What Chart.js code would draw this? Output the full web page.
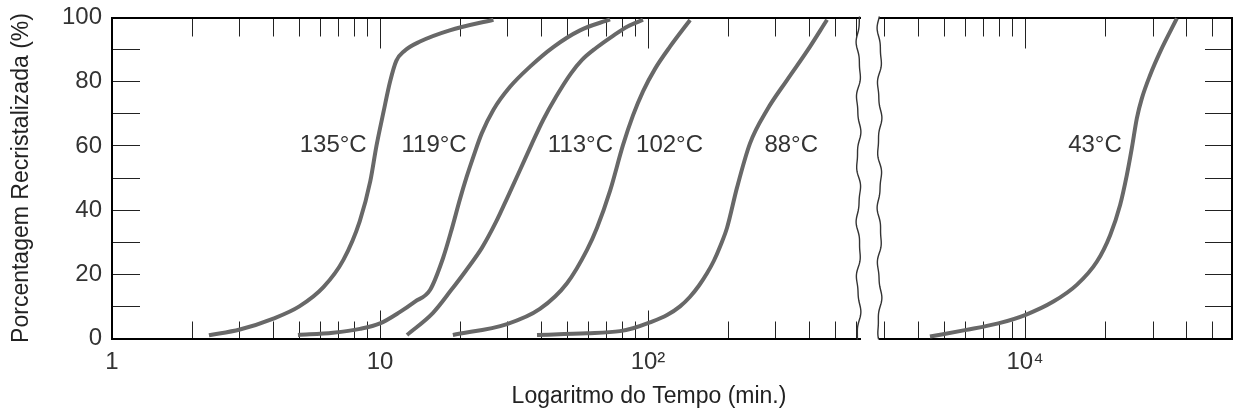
<!DOCTYPE html>
<html>
<head>
<meta charset="utf-8">
<script src="https://cdn.jsdelivr.net/npm/chart.js@4.4.1/dist/chart.umd.min.js"></script>
<style>
html, body { margin: 0; padding: 0; background: #fff; overflow: hidden; }
#wrap { position: relative; width: 1233px; height: 412px; background: #fff; }
canvas { position: absolute; top: 0; }
#c1 { left: 0; }
#c2 { left: 65px; }
</style>
</head>
<body>
<div id="wrap">
  <canvas id="c1" width="870" height="412"></canvas>
  <canvas id="c2" width="1168" height="412"></canvas>
</div>
<script>
// ---------- data (time in minutes, percent recrystallized) ----------
const t135 = [2.3, 3.0, 4.0, 5.0, 6.15, 7.3, 8.4, 9.2, 9.7, 10.3, 10.9, 11.5, 12.3, 14.1, 18.2, 26.5];
const p135 = [1.0, 2.8, 6.2, 10.0, 16.0, 24.5, 36.5, 49.0, 60.0, 70.5, 80.0, 86.5, 89.5, 92.5, 96.0, 99.3];

const t119 = [4.94, 6.68, 8.42, 10.0, 11.88, 13.51, 15.37, 17.18, 18.51, 19.89, 21.06, 22.29, 23.96, 26.47, 30.56, 36.29, 44.32, 55.76, 72.16];
const p119 = [1.1, 1.8, 3.0, 4.7, 8.3, 11.5, 15.1, 25.0, 34.0, 43.5, 50.4, 56.6, 63.9, 71.2, 78.4, 84.7, 90.8, 96.0, 99.4];

const t113 = [12.61, 15.77, 18.40, 20.94, 24.03, 27.09, 30.03, 33.30, 36.93, 40.57, 45.37, 51.61, 56.72, 63.97, 74.05, 84.22, 95.79];
const p113 = [1.1, 8.0, 15.0, 21.2, 28.3, 36.3, 44.3, 52.5, 60.8, 68.0, 75.3, 82.6, 86.8, 90.5, 94.3, 97.3, 99.3];

const t102 = [18.7, 29.78, 39.5, 49.86, 59.22, 64.53, 72.16, 80.7, 87.9, 95.8, 106.2, 120.8, 143.5];
const p102 = [1.1, 4.5, 9.2, 17.2, 27.6, 34.5, 46.0, 60.3, 69.5, 77.0, 84.0, 90.9, 99.2];

const t88 = [38.53, 59.22, 78.63, 87.9, 101.7, 117.8, 131.7, 143.5, 155.0, 166.0, 176.3, 185.6, 197.2, 214.8, 240.2, 278.0, 330.1, 392.0, 465.5];
const p88 = [1.1, 1.6, 2.3, 3.2, 5.0, 7.3, 10.0, 13.0, 16.5, 20.3, 24.3, 28.6, 34.5, 47.0, 60.8, 71.2, 80.5, 89.5, 99.3];

const t43 = [4422, 5973, 7950, 10000, 12755, 15590, 18515, 20765, 22620, 23962, 25012, 26112, 27259, 29275, 31891, 36813];
const p43 = [0.6, 2.6, 4.7, 7.3, 11.5, 16.7, 23.9, 32.2, 41.6, 50.9, 59.3, 68.6, 74.8, 82.1, 89.3, 99.7];

// curve names and where each name sits (time, percent) - text right edge
const curveNames = ['135°C', '119°C', '113°C', '102°C', '88°C', '43°C'];
const nameTime = [8.92, 21.06, 74.05, 160.4, 430.8, 22950];
const namePct = [60.2, 60.2, 60.2, 60.2, 60.2, 60.2];

// axis ranges and ticks
const LEFT_MIN = 1, LEFT_MAX = 618;
const RIGHT_MIN = 2880, RIGHT_MAX = 59100;
const leftMajorTicks = [1, 10, 100];
const leftMajorLabels = ['1', '10', '10²'];
const leftMinorTicks = [2, 3, 4, 5, 6, 7, 8, 9, 20, 30, 40, 50, 60, 70, 80, 90, 200, 300, 400, 500, 600];
const rightMajorTicks = [10000];
const rightMajorLabels = ['10⁴'];
const rightMinorTicks = [3000, 4000, 5000, 6000, 7000, 8000, 9000, 20000, 30000, 40000, 50000];
const yTicks = [0, 10, 20, 30, 40, 50, 60, 70, 80, 90, 100];
const yLabels = ['0', '', '20', '', '40', '', '60', '', '80', '', '100'];

// ---------- styling ----------
const FONT = "'Liberation Sans', Arial, Helvetica, sans-serif";
const TXT = '#333';
const TICK = '#222';
const CURVE = '#686868';

function pts(t, p) { return t.map((v, i) => ({ x: v, y: p[i] })); }
function fixedTicks(values) { return s => { s.ticks = values.map(v => ({ value: v })); }; }
function fixH(h) { return s => { s.height = h; s.paddingLeft = 0; s.paddingRight = 0; }; }

function xAxis(pos, min, max, values, len, extra) {
  return Object.assign({
    type: 'logarithmic', position: pos, min: min, max: max,
    afterBuildTicks: fixedTicks(values), afterFit: fixH(0),
    grid: { drawOnChartArea: false, drawTicks: true, tickLength: -len, tickColor: TICK, tickWidth: 1 },
    border: { display: false },
    ticks: { display: false, autoSkip: false, maxRotation: 0, minRotation: 0 }
  }, extra || {});
}
function labelTicks(labels) {
  return { display: true, autoSkip: false, maxRotation: 0, minRotation: 0, padding: 37,
           font: { family: FONT, size: 24 }, color: TXT,
           callback: (v, i) => labels[i] };
}
const frame = { display: true, color: '#000', width: 2 };

function ds(name, t, p, idx) {
  return { label: name, data: pts(t, p), labelAt: [nameTime[idx], namePct[idx]],
           borderColor: CURVE, borderWidth: 4, pointRadius: 0, fill: false,
           cubicInterpolationMode: 'monotone' };
}

const curveLabels = {
  id: 'curveLabels',
  afterDatasetsDraw(chart) {
    const { ctx } = chart; const xs = chart.scales.x, ys = chart.scales.y;
    ctx.save();
    ctx.font = '24px ' + FONT; ctx.fillStyle = TXT;
    ctx.textAlign = 'right'; ctx.textBaseline = 'middle';
    chart.data.datasets.forEach(d => {
      ctx.fillText(d.label, xs.getPixelForValue(d.labelAt[0]), ys.getPixelForValue(d.labelAt[1]));
    });
    ctx.restore();
  }
};

const breakLine = {
  id: 'breakLine',
  afterDraw(chart, args, opts) {
    const { ctx, chartArea } = chart;
    const x0 = opts.side === 'right' ? chartArea.right - 1.5 : chartArea.left - 0.5;
    ctx.save();
    ctx.strokeStyle = '#333'; ctx.lineWidth = 1.4;
    ctx.beginPath();
    for (let y = chartArea.top - 1; y <= chartArea.bottom + 1; y += 1) {
      const x = x0 + 1.8 * Math.sin((y + opts.phase) / 9.5) + 0.6 * Math.sin((y + opts.phase) / 4.1);
      if (y === chartArea.top - 1) ctx.moveTo(x, y); else ctx.lineTo(x, y);
    }
    ctx.stroke();
    ctx.restore();
  }
};

// ---------- left panel ----------
new Chart(document.getElementById('c1'), {
  type: 'line',
  data: { datasets: [
    ds(curveNames[0], t135, p135, 0),
    ds(curveNames[1], t119, p119, 1),
    ds(curveNames[2], t113, p113, 2),
    ds(curveNames[3], t102, p102, 3),
    ds(curveNames[4], t88, p88, 4)
  ] },
  options: {
    responsive: false, animation: false, devicePixelRatio: 1,
    layout: { padding: { left: 0, right: 10, top: 17.5, bottom: 33.5 } },
    plugins: { legend: { display: false }, tooltip: { enabled: false }, breakLine: { side: 'right', phase: 3 } },
    scales: {
      xMinB: xAxis('bottom', LEFT_MIN, LEFT_MAX, leftMinorTicks, 17, { border: frame, weight: -1 }),
      x: xAxis('bottom', LEFT_MIN, LEFT_MAX, leftMajorTicks, 28, { ticks: labelTicks(leftMajorLabels), afterFit: fixH(40) }),
      xMinT: xAxis('top', LEFT_MIN, LEFT_MAX, leftMinorTicks, 19, { border: frame }),
      xMajT: xAxis('top', LEFT_MIN, LEFT_MAX, leftMajorTicks, 31),
      y: {
        type: 'linear', position: 'left', min: 0, max: 100,
        afterBuildTicks: fixedTicks(yTicks),
        afterFit: s => { s.width = 112; s.paddingTop = 0; s.paddingBottom = 0; },
        grid: { drawOnChartArea: false, tickLength: -28, tickColor: TICK, tickWidth: 1 },
        border: frame,
        ticks: { autoSkip: false, padding: 38, font: { family: FONT, size: 24 }, color: TXT,
                 callback: (v, i) => yLabels[i] },
        title: { display: true, text: 'Porcentagem Recristalizada (%)', color: '#222',
                 font: { family: FONT, size: 23 }, padding: { top: 7.7, bottom: 0 } }
      }
    }
  },
  plugins: [curveLabels, breakLine]
});

// ---------- right panel ----------
new Chart(document.getElementById('c2'), {
  type: 'line',
  data: { datasets: [ ds(curveNames[5], t43, p43, 5) ] },
  options: {
    responsive: false, animation: false, devicePixelRatio: 1,
    layout: { padding: { left: 0, right: 0, top: 17.5, bottom: 0 } },
    plugins: {
      legend: { display: false }, tooltip: { enabled: false },
      breakLine: { side: 'left', phase: 17 },
      title: { display: true, position: 'bottom', text: 'Logaritmo do Tempo (min.)', color: '#222',
               font: { family: FONT, size: 23, weight: 'normal' }, padding: { top: 4.7, bottom: 1.2 } }
    },
    scales: {
      xMinB: xAxis('bottom', RIGHT_MIN, RIGHT_MAX, rightMinorTicks, 17, { border: frame, weight: -1 }),
      x: xAxis('bottom', RIGHT_MIN, RIGHT_MAX, rightMajorTicks, 28, { ticks: labelTicks(rightMajorLabels), afterFit: fixH(40) }),
      xMinT: xAxis('top', RIGHT_MIN, RIGHT_MAX, rightMinorTicks, 19, { border: frame }),
      xMajT: xAxis('top', RIGHT_MIN, RIGHT_MAX, rightMajorTicks, 31),
      yPad: {
        type: 'linear', position: 'left', display: true,
        afterFit: s => { s.width = 815; s.paddingTop = 0; s.paddingBottom = 0; },
        grid: { display: false }, border: { display: false }, ticks: { display: false }
      },
      y: {
        type: 'linear', position: 'right', min: 0, max: 100,
        afterBuildTicks: fixedTicks(yTicks),
        afterFit: s => { s.width = 1; s.paddingTop = 0; s.paddingBottom = 0; },
        grid: { drawOnChartArea: false, tickLength: -27, tickColor: TICK, tickWidth: 1 },
        border: frame,
        ticks: { display: false }
      }
    }
  },
  plugins: [curveLabels, breakLine]
});
</script>
</body>
</html>
